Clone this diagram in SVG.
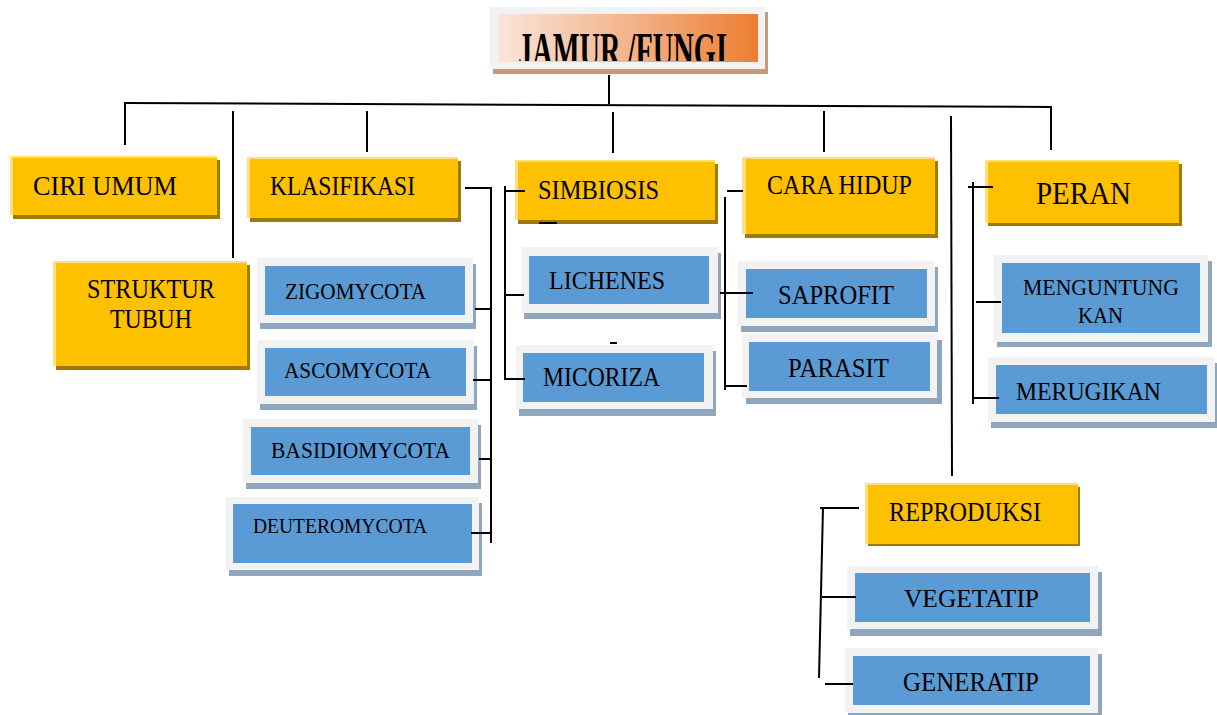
<svg xmlns="http://www.w3.org/2000/svg" width="1217" height="715" viewBox="0 0 1217 715">
<style>
.t{font-family:"Liberation Serif","DejaVu Serif",serif;fill:#000;}
.ys{fill:#9E7B00;}
.yf{fill:#FFE07A;}
.yi{fill:#FFC000;}
.bs{fill:#8EA6BE;}
.bf{fill:#F2F2F2;}
.bi{fill:#5B9BD5;}
.c{stroke:#000;stroke-width:2;fill:none;}
</style>
<defs>
<linearGradient id="tg" x1="0" y1="0" x2="1" y2="0">
<stop offset="0" stop-color="#FBE5D9"/>
<stop offset="0.5" stop-color="#F3B48C"/>
<stop offset="1" stop-color="#ED7D31"/>
</linearGradient>
<clipPath id="tc"><rect x="498" y="14" width="260" height="47"/></clipPath>
</defs>
<rect width="1217" height="715" fill="#fff"/>

<g id="title">
<rect x="493" y="12" width="275" height="62" fill="#C39A7E"/>
<rect x="490" y="7" width="275" height="62" fill="#F2F2F2"/>
<rect x="498" y="14" width="260" height="48" fill="url(#tg)"/>
<text class="t" x="518" y="67" font-size="50" font-weight="bold" textLength="209" lengthAdjust="spacingAndGlyphs" clip-path="url(#tc)">JAMUR /FUNGI</text>
</g>

<g id="ciri-umum">
<rect class="ys" x="13" y="160" width="207" height="59"/>
<rect class="yf" x="10" y="156" width="207" height="59"/>
<rect class="yi" x="13" y="158" width="204" height="57"/>
<text class="t" x="33" y="195" font-size="27" textLength="144" lengthAdjust="spacingAndGlyphs">CIRI UMUM</text>
</g>

<g id="struktur-tubuh">
<rect class="ys" x="56" y="265" width="194" height="105"/>
<rect class="yf" x="53" y="261" width="194" height="105"/>
<rect class="yi" x="56" y="263" width="191" height="103"/>
<text class="t" x="87" y="298" font-size="27" textLength="128" lengthAdjust="spacingAndGlyphs">STRUKTUR</text>
<text class="t" x="110" y="328" font-size="27" textLength="82" lengthAdjust="spacingAndGlyphs">TUBUH</text>
</g>

<g id="klasifikasi">
<rect class="ys" x="250" y="161" width="211" height="61"/>
<rect class="yf" x="247" y="157" width="211" height="61"/>
<rect class="yi" x="250" y="159" width="208" height="59"/>
<text class="t" x="270" y="195" font-size="27" textLength="145" lengthAdjust="spacingAndGlyphs">KLASIFIKASI</text>
</g>

<g id="zigomycota">
<rect class="bs" x="260" y="264" width="216" height="65"/>
<rect class="bf" x="257" y="258" width="216" height="65"/>
<rect class="bi" x="265" y="266" width="200" height="49"/>
<text class="t" x="285" y="299" font-size="23" textLength="141" lengthAdjust="spacingAndGlyphs">ZIGOMYCOTA</text>
</g>

<g id="ascomycota">
<rect class="bs" x="260" y="346" width="217" height="64"/>
<rect class="bf" x="257" y="340" width="217" height="64"/>
<rect class="bi" x="265" y="348" width="201" height="48"/>
<text class="t" x="284" y="378" font-size="23" textLength="147" lengthAdjust="spacingAndGlyphs">ASCOMYCOTA</text>
</g>

<g id="basidiomycota">
<rect class="bs" x="246" y="425" width="235" height="64"/>
<rect class="bf" x="243" y="419" width="235" height="64"/>
<rect class="bi" x="251" y="427" width="219" height="48"/>
<text class="t" x="271" y="458" font-size="23" textLength="179" lengthAdjust="spacingAndGlyphs">BASIDIOMYCOTA</text>
</g>

<g id="deuteromycota">
<rect class="bs" x="229" y="503" width="253" height="73"/>
<rect class="bf" x="226" y="497" width="253" height="73"/>
<rect class="bi" x="233" y="504" width="239" height="59"/>
<text class="t" x="253" y="533" font-size="22" textLength="174" lengthAdjust="spacingAndGlyphs">DEUTEROMYCOTA</text>
</g>

<g id="simbiosis">
<rect class="ys" x="518" y="164" width="200" height="60"/>
<rect class="yf" x="515" y="160" width="200" height="60"/>
<rect class="yi" x="518" y="162" width="197" height="58"/>
<text class="t" x="538" y="199" font-size="27" textLength="121" lengthAdjust="spacingAndGlyphs">SIMBIOSIS</text>
</g>

<g id="lichenes">
<rect class="bs" x="524" y="253" width="197" height="66"/>
<rect class="bf" x="521" y="247" width="197" height="66"/>
<rect class="bi" x="529" y="256" width="180" height="48"/>
<text class="t" x="549" y="289" font-size="26" textLength="116" lengthAdjust="spacingAndGlyphs">LICHENES</text>
</g>

<g id="micoriza">
<rect class="bs" x="519" y="351" width="197" height="65"/>
<rect class="bf" x="516" y="345" width="197" height="64"/>
<rect class="bi" x="523" y="353" width="181" height="49"/>
<text class="t" x="543" y="386" font-size="27" textLength="117" lengthAdjust="spacingAndGlyphs">MICORIZA</text>
</g>

<g id="cara-hidup">
<rect class="ys" x="745" y="161" width="193" height="77"/>
<rect class="yf" x="742" y="157" width="193" height="77"/>
<rect class="yi" x="746" y="159" width="189" height="75"/>
<text class="t" x="767" y="194" font-size="28" textLength="145" lengthAdjust="spacingAndGlyphs">CARA HIDUP</text>
</g>

<g id="saprofit">
<rect class="bs" x="741" y="267" width="197" height="65"/>
<rect class="bf" x="738" y="261" width="197" height="65"/>
<rect class="bi" x="746" y="269" width="181" height="49"/>
<text class="t" x="778" y="304" font-size="27" textLength="116" lengthAdjust="spacingAndGlyphs">SAPROFIT</text>
</g>

<g id="parasit">
<rect class="bs" x="746" y="340" width="196" height="64"/>
<rect class="bf" x="742" y="334" width="195" height="64"/>
<rect class="bi" x="749" y="342" width="181" height="49"/>
<text class="t" x="788" y="377" font-size="28" textLength="101" lengthAdjust="spacingAndGlyphs">PARASIT</text>
</g>

<g id="peran">
<rect class="ys" x="988" y="164" width="194" height="62"/>
<rect class="yf" x="985" y="160" width="194" height="63"/>
<rect class="yi" x="988" y="162" width="191" height="61"/>
<text class="t" x="1036" y="204" font-size="32" textLength="95" lengthAdjust="spacingAndGlyphs">PERAN</text>
</g>

<g id="menguntungkan">
<rect class="bs" x="997" y="261" width="215" height="86"/>
<rect class="bf" x="994" y="255" width="214" height="87"/>
<rect class="bi" x="1002" y="263" width="198" height="70"/>
<text class="t" x="1023" y="295" font-size="23" textLength="156" lengthAdjust="spacingAndGlyphs">MENGUNTUNG</text>
<text class="t" x="1078" y="323" font-size="23" textLength="45" lengthAdjust="spacingAndGlyphs">KAN</text>
</g>

<g id="merugikan">
<rect class="bs" x="991" y="363" width="226" height="65"/>
<rect class="bf" x="988" y="357" width="227" height="65"/>
<rect class="bi" x="996" y="365" width="211" height="49"/>
<text class="t" x="1016" y="400" font-size="26" textLength="145" lengthAdjust="spacingAndGlyphs">MERUGIKAN</text>
</g>

<g id="reproduksi">
<rect class="ys" x="868" y="487" width="212" height="59"/>
<rect class="yf" x="865" y="483" width="213" height="61"/>
<rect class="yi" x="868" y="485" width="210" height="59"/>
<text class="t" x="889" y="521" font-size="27" textLength="152" lengthAdjust="spacingAndGlyphs">REPRODUKSI</text>
</g>

<g id="vegetatip">
<rect class="bs" x="850" y="572" width="252" height="64"/>
<rect class="bf" x="847" y="566" width="251" height="63"/>
<rect class="bi" x="855" y="573" width="235" height="49"/>
<text class="t" x="904" y="607" font-size="26" textLength="135" lengthAdjust="spacingAndGlyphs">VEGETATIP</text>
</g>

<g id="generatip">
<rect class="bs" x="848" y="654" width="254" height="61"/>
<rect class="bf" x="845" y="648" width="253" height="65"/>
<rect class="bi" x="853" y="656" width="237" height="49"/>
<text class="t" x="903" y="691" font-size="27" textLength="136" lengthAdjust="spacingAndGlyphs">GENERATIP</text>
</g>

<g id="connectors" class="c">
<line x1="609" y1="75" x2="609" y2="104"/>
<line x1="124" y1="103" x2="1052" y2="107"/>
<line x1="125" y1="103" x2="125" y2="145"/>
<line x1="367" y1="111" x2="367" y2="152"/>
<line x1="613" y1="112" x2="613" y2="153"/>
<line x1="824" y1="111" x2="824" y2="152"/>
<line x1="1051" y1="107" x2="1051" y2="150"/>
<line x1="233" y1="111" x2="233" y2="258"/>
<line x1="951" y1="116" x2="952" y2="476"/>

<line x1="465" y1="188" x2="492" y2="188"/>
<line x1="491" y1="187" x2="491" y2="543"/>
<line x1="475" y1="309" x2="491" y2="309"/>
<line x1="473" y1="380" x2="491" y2="380"/>
<line x1="479" y1="459" x2="491" y2="459"/>
<line x1="471" y1="533" x2="491" y2="533"/>

<line x1="505" y1="186" x2="505" y2="380"/>
<line x1="504" y1="191" x2="525" y2="191"/>
<line x1="505" y1="295" x2="524" y2="295"/>
<line x1="505" y1="379" x2="525" y2="379"/>
<line x1="539" y1="223" x2="557" y2="223"/>
<line x1="610" y1="343" x2="617" y2="343"/>

<line x1="727" y1="191" x2="743" y2="191"/>
<line x1="725" y1="197" x2="725" y2="390"/>
<line x1="720" y1="293" x2="753" y2="293"/>
<line x1="724" y1="386" x2="747" y2="386"/>

<line x1="968" y1="187" x2="993" y2="187"/>
<line x1="973" y1="182" x2="973" y2="404"/>
<line x1="976" y1="302" x2="1001" y2="302"/>
<line x1="973" y1="398" x2="999" y2="398"/>

<line x1="820" y1="508" x2="859" y2="508"/>
<line x1="823" y1="507" x2="819" y2="678"/>
<line x1="822" y1="597" x2="856" y2="597"/>
<line x1="825" y1="684" x2="853" y2="684"/>
</g>
</svg>
